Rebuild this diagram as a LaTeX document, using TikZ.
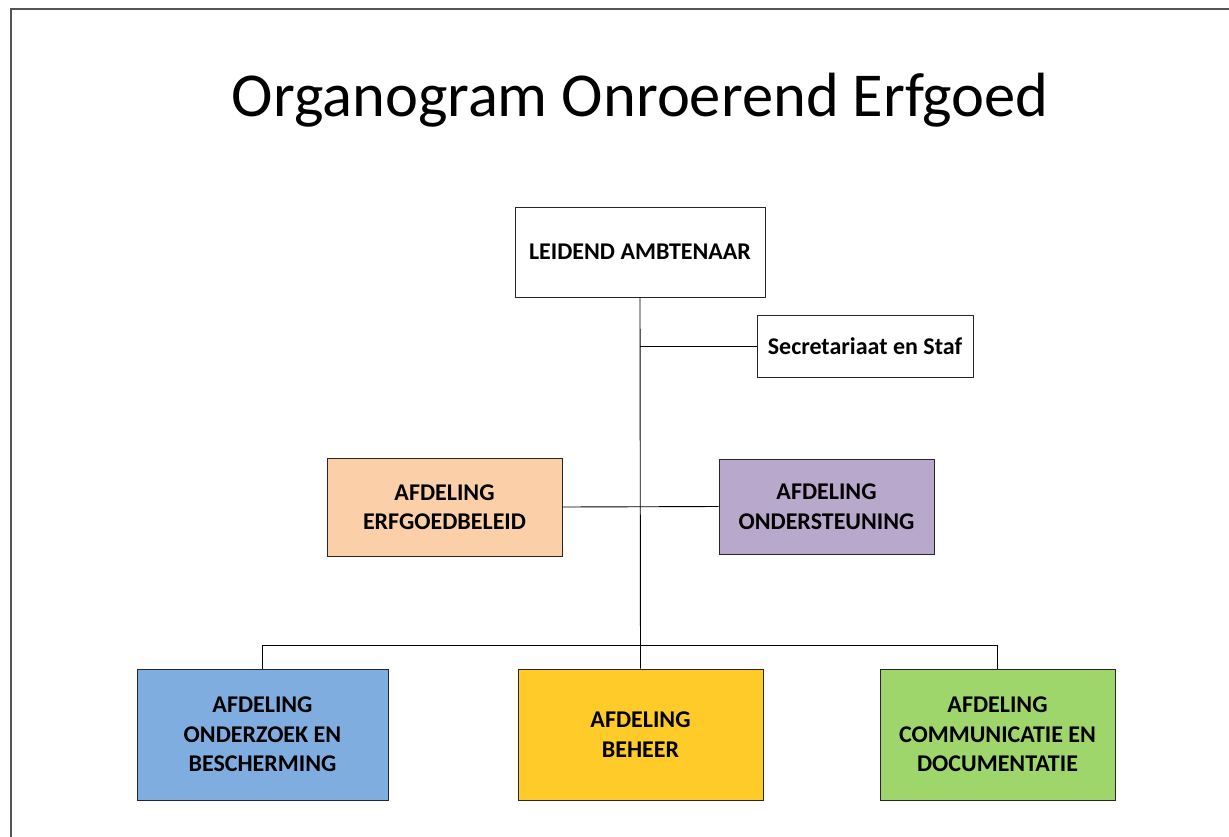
\documentclass[tikz,border=0pt]{standalone}
\usepackage{fontspec}
\setmainfont{Carlito}
\definecolor{cpeach}{HTML}{FBD0A8}
\definecolor{cpurple}{HTML}{B8A9CC}
\definecolor{cblue}{HTML}{80ADE0}
\definecolor{cyellow}{HTML}{FECB28}
\definecolor{cgreen}{HTML}{9FD66B}
\definecolor{cframe}{HTML}{555555}
\begin{document}
\begin{tikzpicture}[x=1pt,y=-1pt,
  box/.style={draw=black!85, line width=0.8pt, align=center, font=\fontsize{24}{29.5}\selectfont\bfseries, inner sep=0pt, anchor=center},
  conn/.style={draw=black, line width=0.9pt}]
\useasboundingbox (0,0) rectangle (1229,836);
\fill[white] (0,0) rectangle (1229,836);
\draw[cframe, line width=1.2pt] (11,845) -- (11,9) -- (1240,9);
\node (title) at (640,100) {\fontsize{62.5}{70}\selectfont Organogram Onroerend Erfgoed};
\node[box, minimum width=250, minimum height=90] (la) at (640,252) {LEIDEND AMBTENAAR};
\node[box, minimum width=216, minimum height=62] (ss) at (865,346) {Secretariaat en Staf};
\node[box, fill=cpeach, minimum width=235, minimum height=98] (eb) at (444.5,507) {AFDELING\\ERFGOEDBELEID};
\node[box, fill=cpurple, minimum width=215, minimum height=95] (os) at (826.5,506.5) {AFDELING\\ONDERSTEUNING};
\node[box, fill=cblue, minimum width=251, minimum height=131] (ob) at (262.5,734.5) {AFDELING\\ONDERZOEK EN\\BESCHERMING};
\node[box, fill=cyellow, minimum width=245, minimum height=131] (bh) at (640.5,734.5) {AFDELING\\BEHEER};
\node[box, fill=cgreen, minimum width=235, minimum height=131] (cd) at (997.5,734.5) {AFDELING\\COMMUNICATIE EN\\DOCUMENTATIE};
\coordinate (bus) at (640,645);
\draw[conn] (la.south) -- (bh.north);
\draw[conn] (ss.west) -- (ss.west -| la.south);
\draw[conn] (eb.east) -- (os.west);
\draw[conn] (ob.north) |- (bus) -| (cd.north);
\end{tikzpicture}
\end{document}
